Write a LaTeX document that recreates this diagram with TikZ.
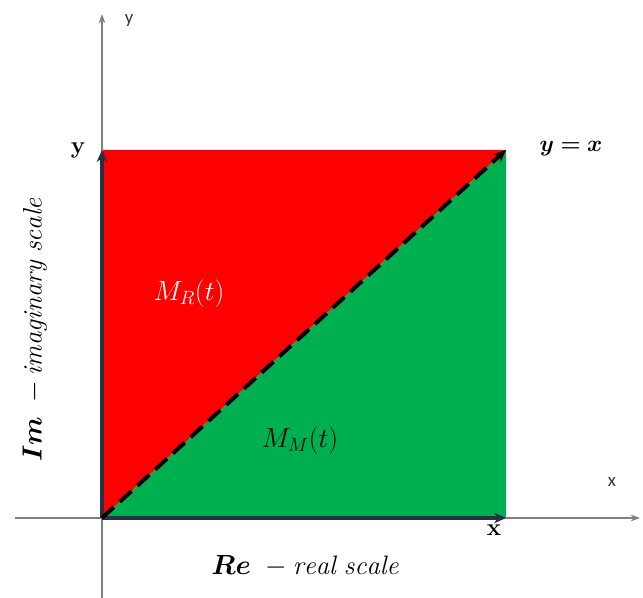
\documentclass[tikz,border=0pt]{standalone}
\usepackage{amsmath}
\usepackage{bm}
\usepackage{fontspec}
\newfontfamily\axisfont{Carlito}
\usetikzlibrary{arrows.meta, positioning}
\definecolor{regred}{RGB}{255,0,0}
\definecolor{reggreen}{RGB}{0,176,80}
\definecolor{axisnavy}{RGB}{40,48,68}

\begin{document}
\begin{tikzpicture}[
		x=0.75pt, y=-0.75pt,
		every node/.style={
				inner sep=1pt,
				text height=1.5ex, % Height above the baseline
				text depth=0.25ex  % Depth below the baseline
			},
		thinaxis/.style={draw=gray, line width=0.9pt, -{Stealth[length=7pt, width=5pt]}},
		boldaxis/.style={draw=axisnavy, line width=3pt, -{Stealth[length=9pt, width=8pt]}},
		bigtext/.style={font=\fontsize{20}{22}\selectfont},
		mtext/.style={font=\fontsize{22}{24}\selectfont},
		smalltext/.style={font=\axisfont\fontsize{14}{16}\selectfont, text=black!80}
	]
	\useasboundingbox (0,0) rectangle (643,598);

	\coordinate (o) at (102,518);
	\coordinate (xe) at (506,518);
	\coordinate (ye) at (102,150);
	\coordinate (c) at (506,150);
	\coordinate (xl) at (15,518);
	\coordinate (xr) at (640,518);
	\coordinate (yb) at (102,598);
	\coordinate (yt) at (102,14);

	% the two regions
	\fill[regred] (o) -- (ye) -- (c) -- cycle;
	\fill[reggreen] (o) -- (c) -- (xe) -- cycle;

	% thin axes
	\draw[thinaxis] (xl) -- (xr);
	\draw[thinaxis] (yb) -- (yt);
	\node[smalltext] (xsmall) at (612,483) {x};
	\node[smalltext] (ysmall) at (129,20) {y};

	% scale axes and diagonal
	\draw[boldaxis] (o) -- (ye);
	\draw[boldaxis] (o) -- (xe);
	\draw[line width=3pt, dash pattern=on 12pt off 6pt,
		-{Stealth[length=9pt, width=8pt]}] (o) -- (c);

	\node[font=\bfseries\fontsize{18}{20}\selectfont] (ylab) at (78,150) {y};
	\node[font=\bfseries\fontsize{18}{20}\selectfont] (xlab) at (494,532) {x};
	\node[font=\fontsize{19}{21}\selectfont] (diag) at (571,148) {$\bm{y=x}$};

	\node[mtext, text=white] (mr) at (189,297) {$M_R(t)$};
	\node[mtext] (mm) at (300,444) {$M_M(t)$};

	\node[bigtext, rotate=90] (im) at (38,330)
		{$\bm{Im}\ -\mathit{imaginary\ scale}$};
	\node[bigtext] (re) at (305,571) {$\bm{Re}\ -\mathit{real\ scale}$};
\end{tikzpicture}
\end{document}
